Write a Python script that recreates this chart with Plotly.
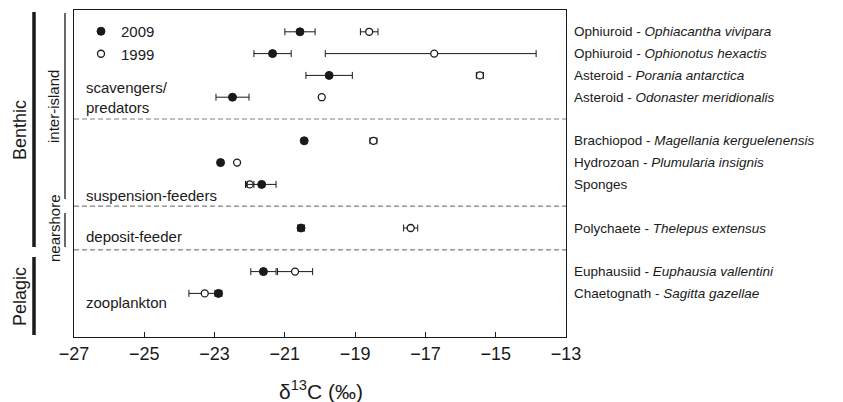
import plotly.graph_objects as go

# ---------------- data ----------------
common_names = ["Ophiuroid", "Ophiuroid", "Asteroid", "Asteroid",
                "Brachiopod", "Hydrozoan", "Sponges",
                "Polychaete",
                "Euphausiid", "Chaetognath"]
latin_names = ["Ophiacantha vivipara", "Ophionotus hexactis", "Porania antarctica",
               "Odonaster meridionalis", "Magellania kerguelenensis", "Plumularia insignis",
               "", "Thelepus extensus", "Euphausia vallentini", "Sagitta gazellae"]
group_names = ["scavengers/<br>predators", "suspension-feeders", "deposit-feeder", "zooplankton"]
group_sizes = [4, 3, 1, 2]

d13c_2009 = [-20.57, -21.35, -19.74, -22.49, -20.45, -22.83, -21.66, -20.54, -21.61, -22.89]
err_2009 = [0.43, 0.53, 0.66, 0.47, 0.04, 0.04, 0.41, 0.10, 0.36, 0.10]
d13c_1999 = [-18.60, -16.75, -15.45, -19.95, -18.48, -22.36, -22.00, -17.42, -20.71, -23.28]
err_1999_plus = [0.25, 2.90, 0.10, 0.02, 0.10, 0.02, 0.12, 0.20, 0.50, 0.45]
err_1999_minus = [0.25, 3.10, 0.10, 0.02, 0.10, 0.02, 0.12, 0.20, 0.50, 0.45]

x_ticks = [-27, -25, -23, -21, -19, -17, -15, -13]

# ---------------- row positions (gap of one row between groups) ----------------
rows = []
separators = []
pos = 0
for gi, n in enumerate(group_sizes):
    for k in range(n):
        rows.append(pos)
        pos += 1
    if gi < len(group_sizes) - 1:
        separators.append(pos)
        pos += 1
y_min, y_max = -1, pos + 1

FONT = "Arial, Liberation Sans, Helvetica, sans-serif"
INK = "#1a1a1a"

fig = go.Figure()

fig.add_trace(go.Scatter(
    x=d13c_1999, y=rows, mode="markers", name="1999",
    marker=dict(symbol="circle", size=7, color="white", line=dict(color=INK, width=1.3)),
    error_x=dict(type="data", symmetric=False, array=err_1999_plus, arrayminus=err_1999_minus,
                 color=INK, thickness=1, width=3.5),
))
fig.add_trace(go.Scatter(
    x=d13c_2009, y=rows, mode="markers", name="2009",
    marker=dict(symbol="circle", size=8, color=INK, line=dict(color=INK, width=1)),
    error_x=dict(type="data", array=err_2009, color=INK, thickness=1, width=3.5),
))

shapes = []
for s in separators:
    shapes.append(dict(type="line", xref="x domain", yref="y", x0=0, x1=1, y0=s, y1=s,
                       line=dict(color="#808080", width=1.2, dash="5px,3px")))


def ypx(px):
    return y_min + (px - 10) / 21.8


def xpaper(px):
    return (px - 74) / 492


shapes += [
    dict(type="line", xref="paper", yref="y", x0=xpaper(34), x1=xpaper(34), y0=ypx(12), y1=ypx(247),
         line=dict(color=INK, width=3.5)),
    dict(type="line", xref="paper", yref="y", x0=xpaper(34), x1=xpaper(34), y0=ypx(257), y1=ypx(335),
         line=dict(color=INK, width=3.5)),
    dict(type="line", xref="paper", yref="y", x0=xpaper(65), x1=xpaper(65), y0=ypx(13), y1=ypx(199),
         line=dict(color=INK, width=1.3)),
    dict(type="line", xref="paper", yref="y", x0=xpaper(65), x1=xpaper(65), y0=ypx(213), y1=ypx(247),
         line=dict(color=INK, width=1.3)),
]

annotations = []
for r, cn, ln in zip(rows, common_names, latin_names):
    txt = cn if not ln else f"{cn} - <i>{ln}</i>"
    annotations.append(dict(x=1, xref="paper", y=r, yref="y", text=txt, showarrow=False,
                            xanchor="left", yanchor="middle", xshift=6,
                            font=dict(family=FONT, size=13.5, color=INK)))
group_label_y = [ypx(97.5), ypx(195), ypx(236), ypx(302)]
for g, yv in zip(group_names, group_label_y):
    annotations.append(dict(x=xpaper(84), xref="paper", y=yv, yref="y", text=g, showarrow=False,
                            xanchor="left", yanchor="middle", align="left",
                            font=dict(family=FONT, size=15, color=INK)))
for txt, xp, yp, sz in [("Benthic", 20, 130, 18), ("Pelagic", 20, 297, 18),
                        ("inter-island", 53, 107, 15), ("nearshore", 54, 228, 15)]:
    annotations.append(dict(x=xpaper(xp), xref="paper", y=ypx(yp), yref="y", text=txt,
                            showarrow=False, textangle=-90, xanchor="center", yanchor="middle",
                            font=dict(family=FONT, size=sz, color=INK)))
# x-axis title
annotations.append(dict(x=xpaper(321), xref="paper", y=0, yref="paper", yshift=-53,
                        text="δ<sup>13</sup>C (‰)", showarrow=False, xanchor="center",
                        yanchor="middle", font=dict(family=FONT, size=21, color=INK)))

fig.update_layout(
    width=843, height=402,
    margin=dict(l=74, r=277, t=10, b=65),
    paper_bgcolor="white", plot_bgcolor="white",
    font=dict(family=FONT, color=INK),
    shapes=shapes, annotations=annotations,
    showlegend=True,
    legend=dict(x=xpaper(81), xanchor="left", y=1 - 5 / 327, yanchor="top",
                traceorder="reversed", bgcolor="rgba(0,0,0,0)",
                font=dict(family=FONT, size=15, color=INK), tracegroupgap=0, itemwidth=30),
    xaxis=dict(range=[x_ticks[0], x_ticks[-1]], tickvals=x_ticks, ticks="inside", ticklen=5,
               tickcolor=INK, showline=True, linecolor=INK, linewidth=1.2, mirror=True,
               showgrid=False, zeroline=False, tickfont=dict(family=FONT, size=18, color=INK)),
    yaxis=dict(range=[y_max, y_min], showticklabels=False, ticks="", showline=True,
               linecolor=INK, linewidth=1.2, mirror=True, showgrid=False, zeroline=False),
)

fig.write_html("out.html", config={"displayModeBar": False},
               post_script="document.body.style.margin='0';document.body.style.padding='0';")
